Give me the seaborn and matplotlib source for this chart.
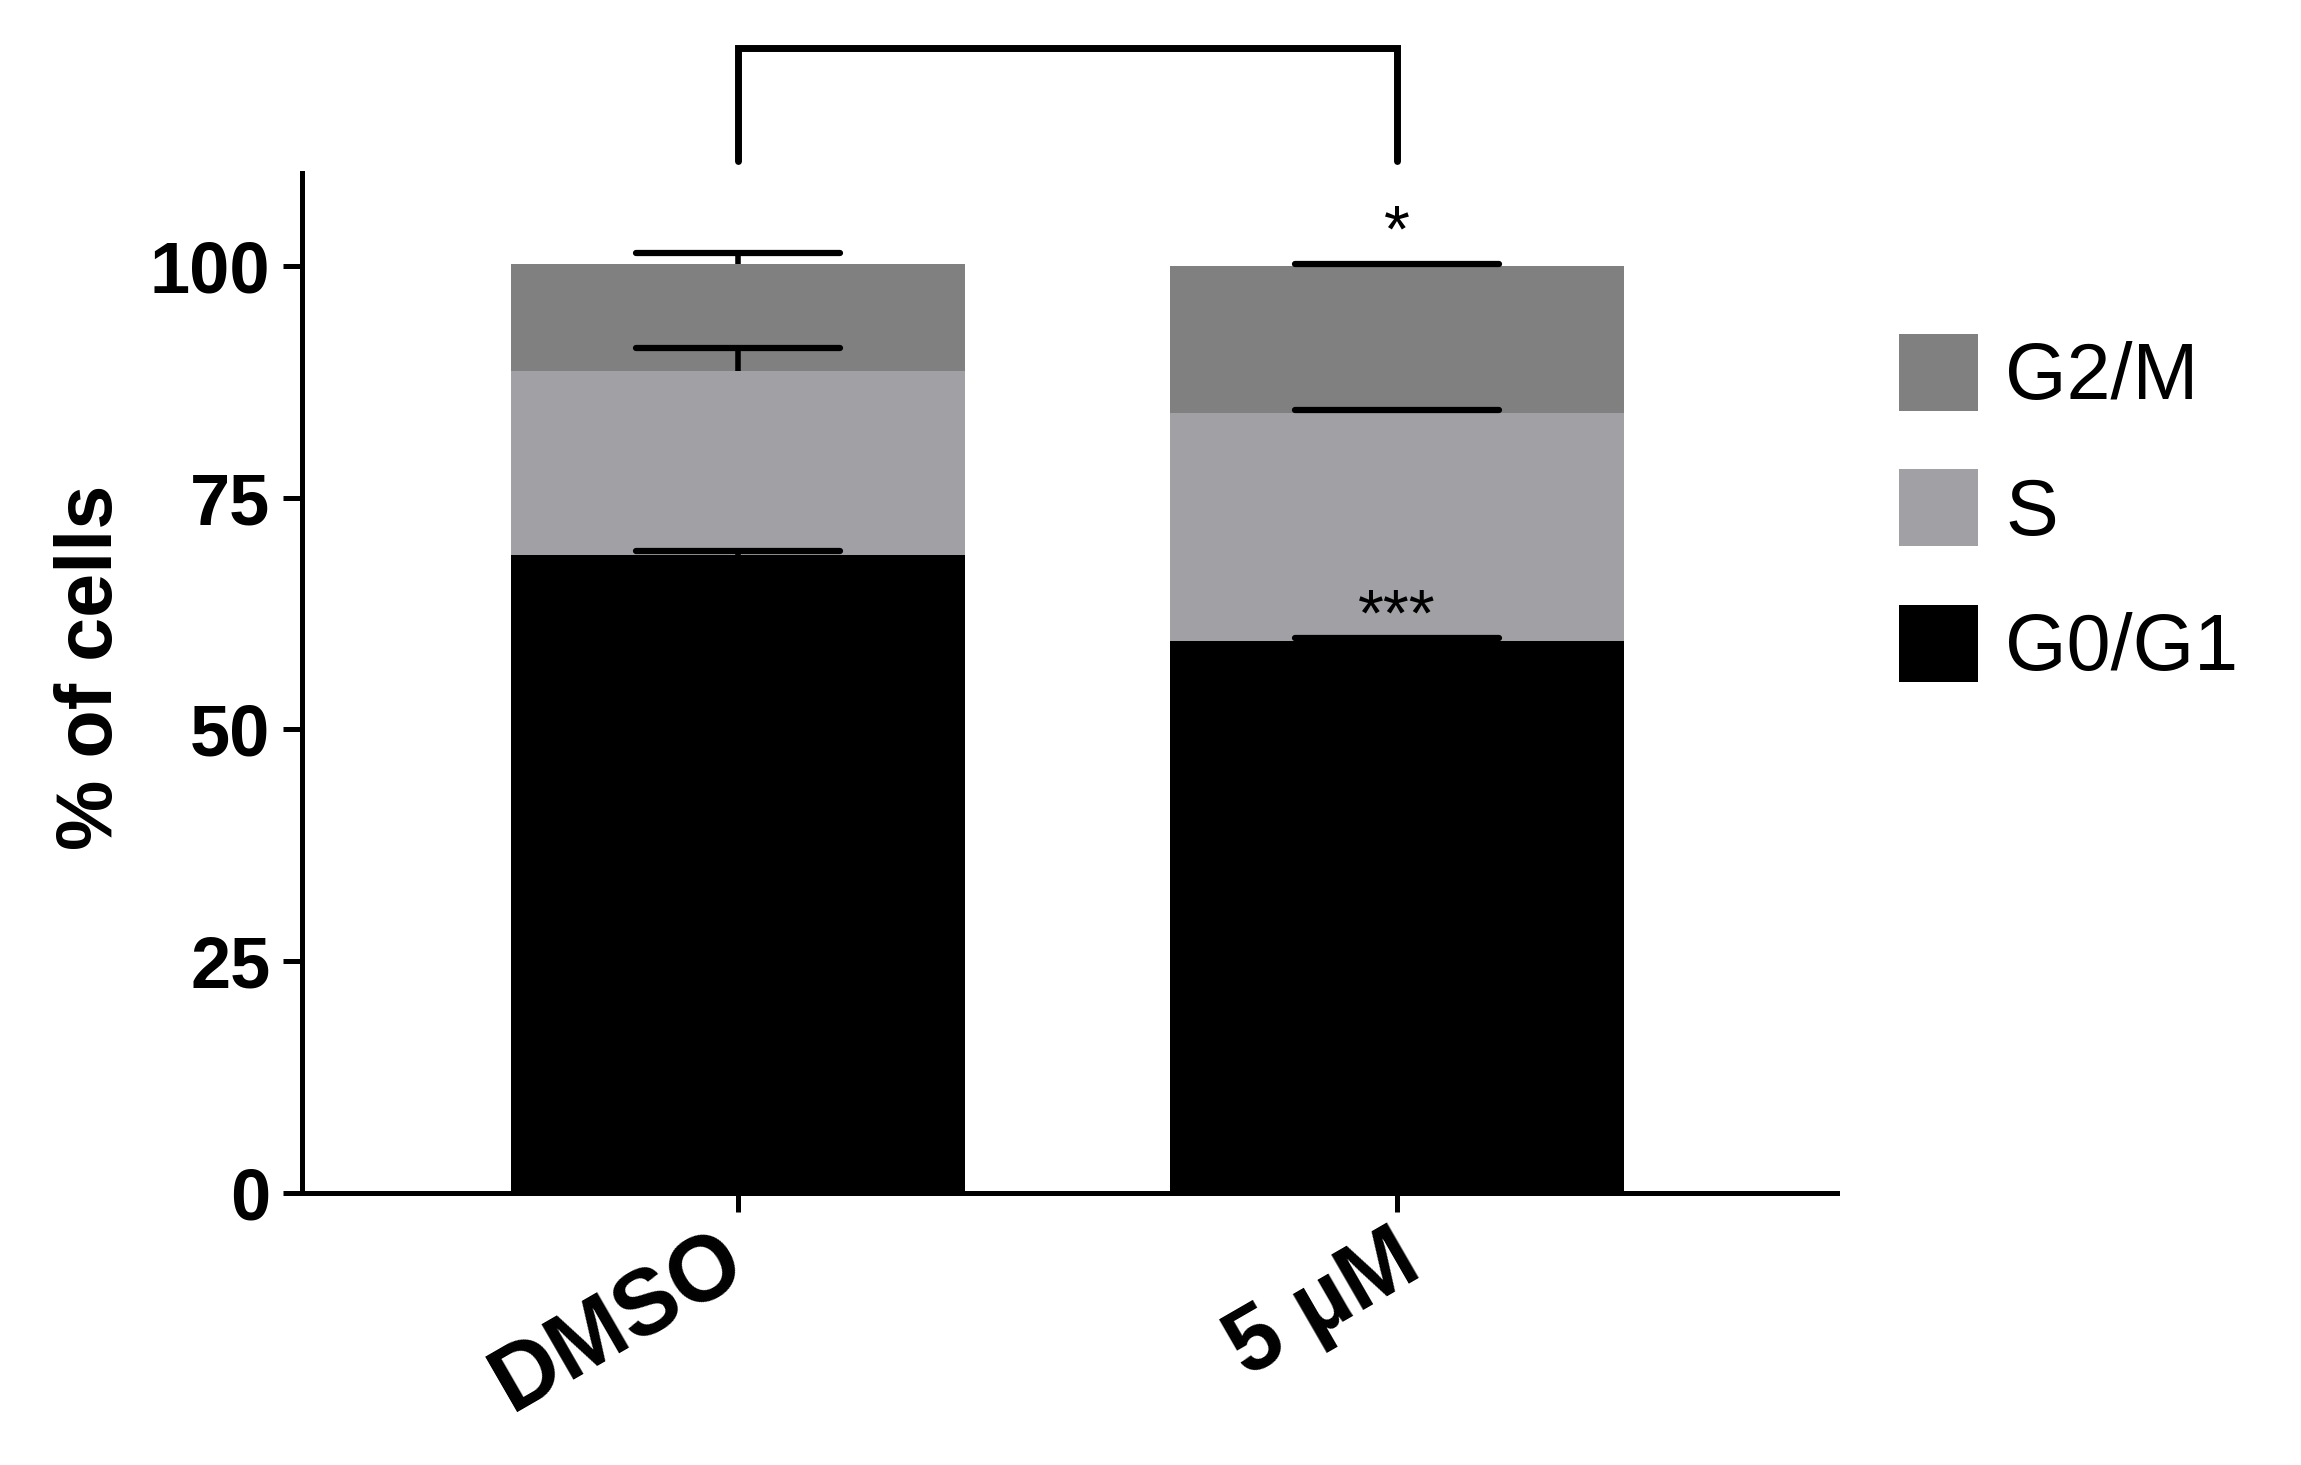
import pandas as pd
import matplotlib
matplotlib.use('Agg')
import matplotlib.pyplot as plt
import matplotlib.transforms as mtransforms
import seaborn as sns
from matplotlib.patches import Patch

# values (% of cells)
conditions = ['DMSO', '5 µM']
phases = ['G0/G1', 'S', 'G2/M']
g0g1 = [68.8, 59.5]
s_phase = [19.8, 24.6]
g2m = [11.6, 15.9]
# upper error (SEM) per segment
g0g1_err = [0.4, 0.4]
s_err = [2.5, 0.3]
g2m_err = [1.2, 0.2]
# significance marks on 5 µM
stars = {'G0/G1': '***', 'G2/M': '*'}

phase_colors = {'G0/G1': '#000000', 'S': '#a1a0a4', 'G2/M': '#808080'}

# build long table with cumulative tops for stacking
rows = []
for i, cond in enumerate(conditions):
    bottom = 0
    for phase, vals, errs in zip(phases, [g0g1, s_phase, g2m], [g0g1_err, s_err, g2m_err]):
        bottom += vals[i]
        rows.append({'condition': cond, 'phase': phase, 'value': vals[i],
                     'top': bottom, 'err': errs[i], 'pos': i})
df = pd.DataFrame(rows)

sns.set_style('ticks')
plt.rcParams['font.family'] = ['Liberation Sans', 'DejaVu Sans']
plt.rcParams['text.color'] = 'black'
plt.rcParams['axes.labelcolor'] = 'black'
plt.rcParams['xtick.color'] = 'black'
plt.rcParams['ytick.color'] = 'black'

fig = plt.figure(figsize=(23.01, 14.65), dpi=100)
ax = fig.add_axes([0.1312, 0.1857, 0.6672, 0.6962])

bar_width = 0.69
# draw tallest first so lower segments sit on top
for phase in reversed(phases):
    sns.barplot(data=df[df.phase == phase], x='condition', y='top', order=conditions,
                color=phase_colors[phase], saturation=1, width=bar_width,
                errorbar=None, linewidth=0, ax=ax)

# upper-only error bars
cap = 0.155
for phase in phases:
    sub = df[df.phase == phase]
    ax.vlines(sub.pos, sub.top, sub.top + sub.err, color='black', lw=4, zorder=5)
    ax.hlines(sub.top + sub.err, sub.pos - cap, sub.pos + cap, color='black', lw=4.5,
              zorder=5, capstyle='round')

# asterisks
star_gap = {'***': 0.2, '*': 1.3}
for phase, mark in stars.items():
    row = df[(df.phase == phase) & (df.pos == 1)].iloc[0]
    ax.text(1, row.top + row.err + star_gap[mark], mark, ha='center', va='baseline',
            fontsize=48)

# comparison bracket above the plot
ax.plot([0, 0, 1, 1], [111.3, 123.5, 123.5, 111.3], color='black', lw=5,
        clip_on=False, solid_joinstyle='miter')

ax.set_ylim(0, 110)
ax.set_xlim(-0.662, 1.668)
ax.set_yticks([0, 25, 50, 75, 100])
ax.set_xticks([0, 1])
ax.set_xticklabels(conditions, rotation=30, ha='right', rotation_mode='anchor',
                   fontsize=66, fontweight='bold')
for lab in ax.get_yticklabels():
    lab.set_fontsize(52)
    lab.set_fontweight('bold')
ax.tick_params(axis='both', direction='out', length=13.7, width=3.6, colors='black')
ax.tick_params(axis='y', pad=9)
ax.tick_params(axis='x', pad=3.5)

# nudge rotated labels (points)
label_shift = [(-16, 0), (-4, 0)]
for lab, (dx, dy) in zip(ax.get_xticklabels(), label_shift):
    lab.set_transform(lab.get_transform() +
                      mtransforms.ScaledTranslation(dx / 72, dy / 72, fig.dpi_scale_trans))

ax.set_xlabel('')
ax.set_ylabel('% of cells', fontsize=57, fontweight='bold')
ax.yaxis.set_label_coords(-0.1127, 0.515)

sns.despine(ax=ax)
for side in ['left', 'bottom']:
    ax.spines[side].set_linewidth(3.6)
    ax.spines[side].set_color('black')

handles = [Patch(facecolor=phase_colors[p], edgecolor='none', label=p) for p in reversed(phases)]
fig.legend(handles=handles, loc='upper left', bbox_to_anchor=(1899 / 2301, 1 - 334 / 1465),
           frameon=False, fontsize=57, handlelength=1.0, handleheight=1.12,
           handletextpad=0.34, labelspacing=0.67, borderpad=0, borderaxespad=0)

plt.savefig('out.png', dpi=100)
